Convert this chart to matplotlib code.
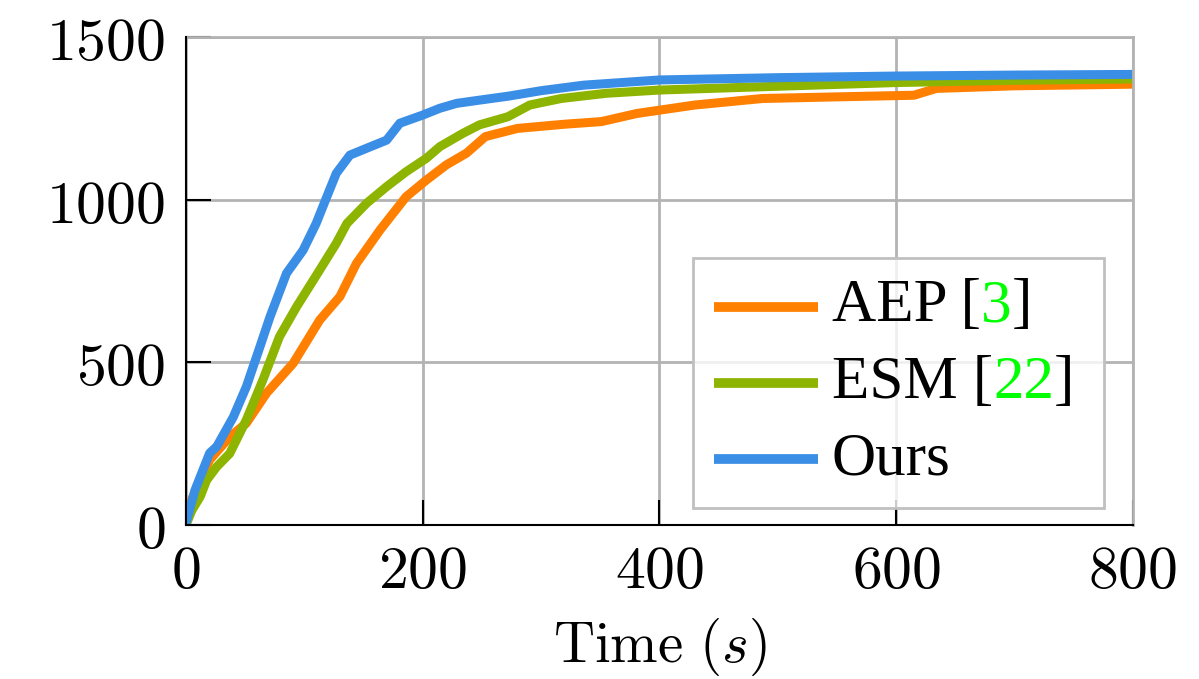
import matplotlib
matplotlib.use("Agg")
import matplotlib.pyplot as plt
from matplotlib.ticker import FuncFormatter
from matplotlib.offsetbox import (AnchoredOffsetbox, VPacker, HPacker,
                                  TextArea, DrawingArea)
from matplotlib.lines import Line2D

plt.rcParams["mathtext.fontset"] = "cm"

# values
t_aep = [0, 5, 20, 37, 51, 68, 90.6, 113, 130, 144, 164, 186, 203, 220, 237,
         253, 280, 320, 351, 381, 430, 487, 550, 615, 634, 700, 800]
aep = [0, 80, 200, 271, 313, 405, 497, 630, 702, 804, 907, 1009, 1060, 1107,
       1143, 1194, 1219, 1232, 1240, 1265, 1291, 1311, 1316, 1321, 1342, 1350,
       1355]

t_esm = [0, 5, 12, 17.5, 26, 37, 51, 65, 79, 93.5, 113, 127, 136, 152.6,
         169.5, 186, 203, 214.5, 234, 248, 272, 290.5, 317, 355, 400, 486,
         600, 700, 800]
esm = [0, 45, 87, 138, 179, 220, 323, 446, 579, 671, 784, 866, 927, 989,
       1040, 1086, 1127, 1163, 1204, 1230, 1255, 1291, 1311, 1327, 1337, 1347,
       1360, 1367, 1371]

t_ours = [0, 7.6, 20, 26, 40, 51, 62.5, 71, 85, 99, 110, 119, 127, 138.5,
          152.6, 169.5, 180.7, 200, 214.5, 228.6, 248, 272, 300, 336, 400,
          500, 600, 700, 800]
ours = [6, 107, 221, 241, 332, 425, 548, 640, 774, 845, 927, 1009, 1081, 1137,
        1158, 1183, 1235, 1260, 1281, 1296, 1306, 1318, 1335, 1352, 1368, 1375,
        1380, 1383, 1385]

names = ["AEP", "ESM", "Ours"]
refs = ["3", "22", ""]
colors = ["#ff7f00", "#8cb400", "#3a8ee6"]
x_ticks = [0, 200, 400, 600, 800]
y_ticks = [0, 500, 1000, 1500]

fig = plt.figure(figsize=(11.99, 6.79), dpi=100)
ax = fig.add_axes([0.1551, 0.2268, 0.7898, 0.7187])

for t, v, c in zip([t_aep, t_esm, t_ours], [aep, esm, ours], colors):
    ax.plot(t, v, color=c, lw=6.5, solid_joinstyle="round")

ax.set_xlim(0, 800)
ax.set_ylim(0, 1500)
ax.set_xticks(x_ticks)
ax.set_yticks(y_ticks)
fmt = FuncFormatter(lambda v, p: f"${int(v)}$")
ax.xaxis.set_major_formatter(fmt)
ax.yaxis.set_major_formatter(fmt)
ax.tick_params(direction="in", length=18, width=1.5, labelsize=43)
ax.tick_params(axis="y", pad=15)
ax.tick_params(axis="x", pad=12)
ax.grid(color="#b3b3b3", lw=2)
ax.set_axisbelow(True)
for s in ["left", "bottom"]:
    ax.spines[s].set_linewidth(1.5)
    ax.spines[s].set_zorder(3)
for s in ["top", "right"]:
    ax.spines[s].set_color("#b3b3b3")
    ax.spines[s].set_linewidth(2)

ax.set_xlabel(r"$\mathrm{Time}\ (s)$", fontsize=41, labelpad=11)

# legend with green citation numbers
tp = dict(family="Liberation Serif", size=44, color="black")
tp_ref = dict(tp, color="#00ff00")
rows = []
for name, ref, c in zip(names, refs, colors):
    da = DrawingArea(75, 30, 0, 0)
    da.add_artist(Line2D([0, 75], [15, 15], color=c, lw=7,
                         solid_capstyle="butt"))
    if ref:
        parts = [TextArea(name + " [", textprops=tp),
                 TextArea(ref, textprops=tp_ref),
                 TextArea("]", textprops=tp)]
    else:
        parts = [TextArea(name, textprops=tp)]
    label = HPacker(children=parts, align="baseline", pad=0, sep=0)
    rows.append(HPacker(children=[da, label], align="center", pad=0, sep=10))

content = HPacker(children=[VPacker(children=rows, align="left", pad=0, sep=15),
                            DrawingArea(6, 1, 0, 0)],
                  align="center", pad=0, sep=0)
leg = AnchoredOffsetbox(loc="lower right", child=content,
                        prop=dict(size=10), pad=1.5, borderpad=0,
                        bbox_to_anchor=(0.969, 0.035),
                        bbox_transform=ax.transAxes, frameon=True)
leg.patch.set_edgecolor("#c0c0c0")
leg.patch.set_linewidth(2)
leg.patch.set_facecolor((1, 1, 1, 0.8))
ax.add_artist(leg)

fig.savefig("out.png", dpi=100)
